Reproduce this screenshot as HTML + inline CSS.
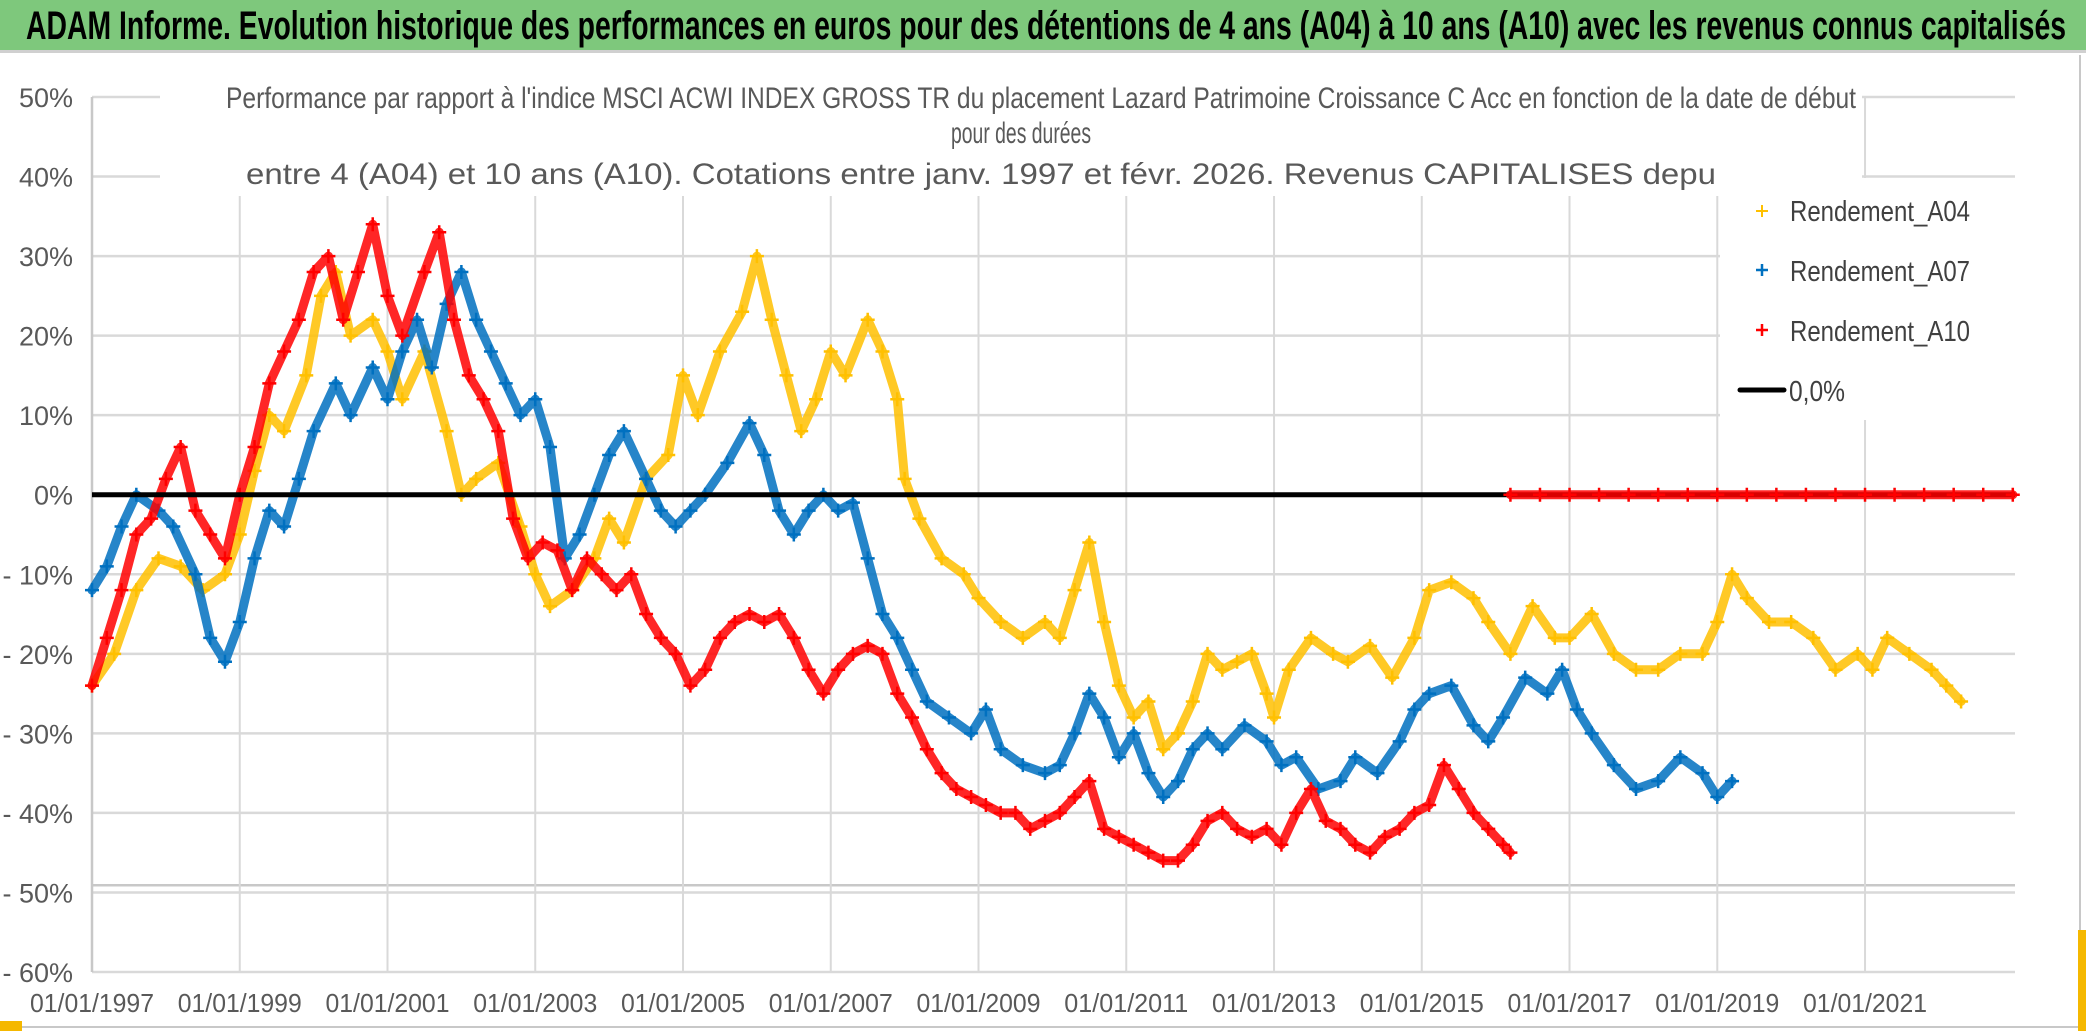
<!DOCTYPE html>
<html><head><meta charset="utf-8"><style>
html,body{margin:0;padding:0;background:#fff;}
svg{display:block;font-family:"Liberation Sans",sans-serif;}
</style></head><body>
<svg id="c" width="2086" height="1031" viewBox="0 0 2086 1031" xmlns="http://www.w3.org/2000/svg">
<rect x="0" y="0" width="2086" height="1031" fill="#fff"/>
<rect x="0" y="0" width="2086" height="50" fill="#7ec87c"/>
<line x1="0" y1="51.5" x2="2086" y2="51.5" stroke="#d0d0d0" stroke-width="3"/>
<text x="26" y="39" font-size="40" font-weight="bold" fill="#000" textLength="2040" lengthAdjust="spacingAndGlyphs">ADAM Informe. Evolution historique des performances en euros pour des détentions de 4 ans (A04) à 10 ans (A10) avec les revenus connus capitalisés</text>
<line x1="2080" y1="55" x2="2080" y2="1027" stroke="#c8c8c8" stroke-width="2"/>
<line x1="0" y1="1027" x2="2080" y2="1027" stroke="#c8c8c8" stroke-width="2"/>
<rect x="0" y="1021" width="22" height="10" fill="#f5b800"/>
<rect x="2078" y="930" width="8" height="101" fill="#f5b800"/>
<g id="grid"></g>
<g id="series"></g>
<rect x="160" y="72" width="1702" height="124" fill="#fff"/>
<text x="226" y="108" font-size="30" fill="#595959" textLength="1630" lengthAdjust="spacingAndGlyphs">Performance par rapport à l'indice MSCI ACWI INDEX GROSS TR  du placement Lazard Patrimoine Croissance C Acc en fonction de la date de début</text>
<text x="951" y="143" font-size="30" fill="#595959" textLength="140" lengthAdjust="spacingAndGlyphs">pour des durées</text>
<text x="246" y="184" font-size="30" fill="#595959" textLength="1470" lengthAdjust="spacingAndGlyphs">entre 4 (A04) et 10 ans (A10). Cotations entre janv. 1997 et févr. 2026. Revenus CAPITALISES depu</text>
<g>
<rect x="1720" y="178" width="295" height="242" fill="#fff"/>
<g><path d="M1756 211h12M1762 205v12" stroke="#ffc000" stroke-width="2"/><text x="1790" y="221" font-size="29" fill="#404040" textLength="180" lengthAdjust="spacingAndGlyphs">Rendement_A04</text></g>
<g><path d="M1756 270h12M1762 264v12" stroke="#0070c0" stroke-width="2.5"/><text x="1790" y="281" font-size="29" fill="#404040" textLength="180" lengthAdjust="spacingAndGlyphs">Rendement_A07</text></g>
<g><path d="M1756 330h12M1762 324v12" stroke="#ff0000" stroke-width="2.5"/><text x="1790" y="341" font-size="29" fill="#404040" textLength="180" lengthAdjust="spacingAndGlyphs">Rendement_A10</text></g>
<g><line x1="1740" y1="390" x2="1784" y2="390" stroke="#000" stroke-width="5" stroke-linecap="round"/><text x="1789" y="401" font-size="29" fill="#404040" textLength="56" lengthAdjust="spacingAndGlyphs">0,0%</text></g>
</g>
</svg>
<script>
const yTicks=[50,40,30,20,10,0,-10,-20,-30,-40,-50,-60];
const yTickLabels=["50%","40%","30%","20%","10%","0%","- 10%","- 20%","- 30%","- 40%","- 50%","- 60%"];
const xTicks=[1997,1999,2001,2003,2005,2007,2009,2011,2013,2015,2017,2019,2021];
const xTickLabels=["01/01/1997","01/01/1999","01/01/2001","01/01/2003","01/01/2005","01/01/2007","01/01/2009","01/01/2011","01/01/2013","01/01/2015","01/01/2017","01/01/2019","01/01/2021"];
const a04Dates=[1997.0,1997.3,1997.6,1997.9,1998.2,1998.5,1998.8,1999.0,1999.2,1999.4,1999.6,1999.9,2000.1,2000.3,2000.5,2000.8,2001.0,2001.2,2001.5,2001.8,2002.0,2002.2,2002.5,2002.8,2003.0,2003.2,2003.5,2003.8,2004.0,2004.2,2004.5,2004.8,2005.0,2005.2,2005.5,2005.8,2006.0,2006.2,2006.4,2006.6,2006.8,2007.0,2007.2,2007.5,2007.7,2007.9,2008.0,2008.2,2008.5,2008.8,2009.0,2009.3,2009.6,2009.9,2010.1,2010.3,2010.5,2010.7,2010.9,2011.1,2011.3,2011.5,2011.7,2011.9,2012.1,2012.3,2012.5,2012.7,2012.9,2013.0,2013.2,2013.5,2013.8,2014.0,2014.3,2014.6,2014.9,2015.1,2015.4,2015.7,2015.9,2016.2,2016.5,2016.8,2017.0,2017.3,2017.6,2017.9,2018.2,2018.5,2018.8,2019.0,2019.2,2019.4,2019.7,2020.0,2020.3,2020.6,2020.9,2021.1,2021.3,2021.6,2021.9,2022.1,2022.3];
const a04Values=[-24,-20,-12,-8,-9,-12,-10,-5,3,10,8,15,25,28,20,22,18,12,18,8,0,2,4,-4,-10,-14,-12,-8,-3,-6,2,5,15,10,18,23,30,22,15,8,12,18,15,22,18,12,2,-3,-8,-10,-13,-16,-18,-16,-18,-12,-6,-16,-24,-28,-26,-32,-30,-26,-20,-22,-21,-20,-25,-28,-22,-18,-20,-21,-19,-23,-18,-12,-11,-13,-16,-20,-14,-18,-18,-15,-20,-22,-22,-20,-20,-16,-10,-13,-16,-16,-18,-22,-20,-22,-18,-20,-22,-24,-26];
const a07Dates=[1997.0,1997.2,1997.4,1997.6,1997.9,1998.1,1998.4,1998.6,1998.8,1999.0,1999.2,1999.4,1999.6,1999.8,2000.0,2000.3,2000.5,2000.8,2001.0,2001.2,2001.4,2001.6,2001.8,2002.0,2002.2,2002.4,2002.6,2002.8,2003.0,2003.2,2003.4,2003.6,2003.8,2004.0,2004.2,2004.5,2004.7,2004.9,2005.1,2005.3,2005.6,2005.9,2006.1,2006.3,2006.5,2006.7,2006.9,2007.1,2007.3,2007.5,2007.7,2007.9,2008.1,2008.3,2008.6,2008.9,2009.1,2009.3,2009.6,2009.9,2010.1,2010.3,2010.5,2010.7,2010.9,2011.1,2011.3,2011.5,2011.7,2011.9,2012.1,2012.3,2012.6,2012.9,2013.1,2013.3,2013.6,2013.9,2014.1,2014.4,2014.7,2014.9,2015.1,2015.4,2015.7,2015.9,2016.1,2016.4,2016.7,2016.9,2017.1,2017.3,2017.6,2017.9,2018.2,2018.5,2018.8,2019.0,2019.2];
const a07Values=[-12,-9,-4,0,-2,-4,-10,-18,-21,-16,-8,-2,-4,2,8,14,10,16,12,18,22,16,24,28,22,18,14,10,12,6,-8,-5,0,5,8,2,-2,-4,-2,0,4,9,5,-2,-5,-2,0,-2,-1,-8,-15,-18,-22,-26,-28,-30,-27,-32,-34,-35,-34,-30,-25,-28,-33,-30,-35,-38,-36,-32,-30,-32,-29,-31,-34,-33,-37,-36,-33,-35,-31,-27,-25,-24,-29,-31,-28,-23,-25,-22,-27,-30,-34,-37,-36,-33,-35,-38,-36];
const a10Dates=[1997.0,1997.2,1997.4,1997.6,1997.8,1998.0,1998.2,1998.4,1998.6,1998.8,1999.0,1999.2,1999.4,1999.6,1999.8,2000.0,2000.2,2000.4,2000.6,2000.8,2001.0,2001.2,2001.5,2001.7,2001.9,2002.1,2002.3,2002.5,2002.7,2002.9,2003.1,2003.3,2003.5,2003.7,2003.9,2004.1,2004.3,2004.5,2004.7,2004.9,2005.1,2005.3,2005.5,2005.7,2005.9,2006.1,2006.3,2006.5,2006.7,2006.9,2007.1,2007.3,2007.5,2007.7,2007.9,2008.1,2008.3,2008.5,2008.7,2008.9,2009.1,2009.3,2009.5,2009.7,2009.9,2010.1,2010.3,2010.5,2010.7,2010.9,2011.1,2011.3,2011.5,2011.7,2011.9,2012.1,2012.3,2012.5,2012.7,2012.9,2013.1,2013.3,2013.5,2013.7,2013.9,2014.1,2014.3,2014.5,2014.7,2014.9,2015.1,2015.3,2015.5,2015.7,2015.9,2016.1,2016.2];
const a10Values=[-24,-18,-12,-5,-3,2,6,-2,-5,-8,0,6,14,18,22,28,30,22,28,34,25,20,28,33,22,15,12,8,-3,-8,-6,-7,-12,-8,-10,-12,-10,-15,-18,-20,-24,-22,-18,-16,-15,-16,-15,-18,-22,-25,-22,-20,-19,-20,-25,-28,-32,-35,-37,-38,-39,-40,-40,-42,-41,-40,-38,-36,-42,-43,-44,-45,-46,-46,-44,-41,-40,-42,-43,-42,-44,-40,-37,-41,-42,-44,-45,-43,-42,-40,-39,-34,-37,-40,-42,-44,-45];
const a10ZeroDates=[2016.2,2016.6,2017.0,2017.4,2017.8,2018.2,2018.6,2019.0,2019.4,2019.8,2020.2,2020.6,2021.0,2021.4,2021.8,2022.2,2022.6,2023.0];
const a10ZeroValues=[0,0,0,0,0,0,0,0,0,0,0,0,0,0,0,0,0,0];

const NS="http://www.w3.org/2000/svg";
const X0=92,X1=2015,XMIN=1997,XMAX=2023.03;
const Y0=97,Y1=972,VMAX=50,VMIN=-60;
function xs(d){return X0+(d-XMIN)/(XMAX-XMIN)*(X1-X0);}
function ys(v){return Y0+(VMAX-v)/(VMAX-VMIN)*(Y1-Y0);}
function mk(tag,attrs,parent){const e=document.createElementNS(NS,tag);for(const k in attrs)e.setAttribute(k,attrs[k]);parent.appendChild(e);return e;}
const grid=document.getElementById('grid');
yTicks.forEach((v,i)=>{
  const l=mk('line',{x1:X0,x2:X1,y1:ys(v),y2:ys(v),stroke:'#d9d9d9','stroke-width':2.5},grid);
  
  
  const t=mk('text',{x:73,y:ys(v)+10,'font-size':27,fill:'#595959','text-anchor':'end'},grid);
  t.textContent=yTickLabels[i];
  
  
});
const extra=mk('line',{x1:X0,x2:X1,y1:ys(-49.1),y2:ys(-49.1),stroke:'#c8c8c8','stroke-width':2.5},grid);


xTicks.forEach((d,i)=>{
  const l=mk('line',{x1:xs(d),x2:xs(d),y1:Y0,y2:Y1,stroke:'#d9d9d9','stroke-width':2},grid);
  
  
  const t=mk('text',{x:xs(d),y:1012,'font-size':26,fill:'#595959','text-anchor':'middle',textLength:124,lengthAdjust:'spacingAndGlyphs'},grid);
  t.textContent=xTickLabels[i];
  
  
});
const ax=mk('line',{x1:X0,x2:X0,y1:Y0,y2:Y1,stroke:'#c8c8c8','stroke-width':2.5},grid);


const sg=document.getElementById('series');
function drawSeries(dates,vals,color,name){
  const g=mk('g',{},sg);
  
  
  const pts=dates.map((d,i)=>xs(d).toFixed(1)+','+ys(vals[i]).toFixed(1)).join(' ');
  const pl=mk('polyline',{points:pts,fill:'none',stroke:color,'stroke-width':9,'stroke-linejoin':'round','stroke-linecap':'round','stroke-opacity':0.85},g);
  
  
  dates.forEach((d,i)=>{
    const x=xs(d),y=ys(vals[i]);
    const p=mk('path',{d:`M${x-7} ${y}h14M${x} ${y-7}v14`,stroke:color,'stroke-width':2.5},g);
    
    
  });
}
drawSeries(a04Dates,a04Values,'#ffc000','series-a04');
drawSeries(a07Dates,a07Values,'#0070c0','series-a07');
drawSeries(a10Dates,a10Values,'#ff0000','series-a10');
const zl=mk('line',{x1:X0,x2:X1,y1:ys(0),y2:ys(0),stroke:'#000','stroke-width':5},sg);


drawSeries(a10ZeroDates,a10ZeroValues,'#ff0000','series-a10-zero');
</script>
</body></html>
